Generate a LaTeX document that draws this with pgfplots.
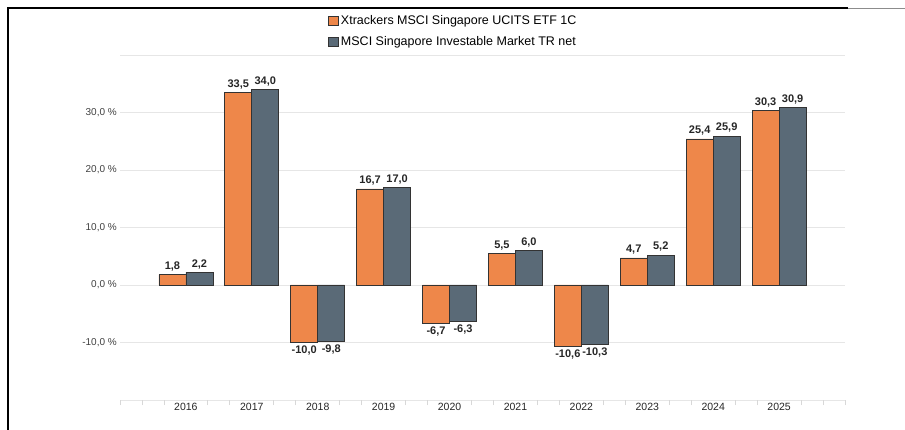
\documentclass[border=0pt]{standalone}
\usepackage{fontspec}
\setmainfont{Liberation Sans}
\usepackage{pgfplots}
\pgfplotsset{compat=1.18}
\definecolor{orangebar}{HTML}{EE874A}
\definecolor{slatebar}{HTML}{5A6A77}
\definecolor{gridc}{HTML}{E6E6E6}
\definecolor{tickc}{HTML}{D8D8D8}
\begin{document}
\begin{tikzpicture}
\begin{axis}[
  at={(120pt,-400pt)}, anchor=south west,
  scale only axis, width=725pt, height=345pt,
  xmin=-1, xmax=10, ymin=-20, ymax=40,
  ybar=0pt, bar width=27pt,
  axis line style={draw=none},
  ymajorgrids, grid style={draw=gridc, line width=0.9pt},
  ytick={-20,-10,...,40},
  yticklabels={,{-10,0 \%},{0,0 \%},{10,0 \%},{20,0 \%},{30,0 \%},},
  ytick style={draw=none},
  yticklabel style={font=\fontsize{10}{12}\selectfont, color=black!75, inner sep=1pt, xshift=3pt},
  tick align=outside, major tick length=5pt,
  xtick pos=left, ytick pos=left,
  xtick={-1,-0.667,-0.333,0.333,0.667,1.333,1.667,2.333,2.667,3.333,3.667,4.333,4.667,5.333,5.667,6.333,6.667,7.333,7.667,8.333,8.667,9.333,9.667,10},
  xticklabels={},
  xtick style={draw=tickc, line width=0.8pt},
  extra x ticks={0,1,2,3,4,5,6,7,8,9},
  extra x tick labels={2016,2017,2018,2019,2020,2021,2022,2023,2024,2025},
  extra x tick style={major tick length=0pt, grid=none},
  xticklabel style={font=\fontsize{10.5}{12}\selectfont, color=black!85},
  nodes near coords,
  nodes near coords style={font=\bfseries\fontsize{11}{12}\selectfont, color=black!85, inner sep=3pt},
  /pgf/number format/fixed, /pgf/number format/fixed zerofill,
  /pgf/number format/precision=1, /pgf/number format/use comma,
  /pgf/number format/assume math mode=true,
  legend style={at={(axis description cs:0.283,1.127)}, anchor=north west, draw=none, fill=none,
    font=\fontsize{12.5}{14}\selectfont, row sep=5pt, cells={anchor=west},
    nodes={inner sep=2.5pt}},
  legend image code/.code={\draw[#1, line width=0.6pt] (0pt,-4.5pt) rectangle (9.5pt,4.5pt);},
]
\addplot[fill=orangebar, draw=black!80, line width=0.8pt] coordinates {
  (0,1.8) (1,33.5) (2,-10.0) (3,16.7) (4,-6.7) (5,5.5) (6,-10.6) (7,4.7) (8,25.4) (9,30.3)};
\addlegendentry{Xtrackers MSCI Singapore UCITS ETF 1C}
\addplot[fill=slatebar, draw=black!80, line width=0.8pt] coordinates {
  (0,2.2) (1,34.0) (2,-9.8) (3,17.0) (4,-6.3) (5,6.0) (6,-10.3) (7,5.2) (8,25.9) (9,30.9)};
\addlegendentry{MSCI Singapore Investable Market TR net}
\end{axis}
\draw[black, line width=1.2pt] (8pt,-430pt) -- (8pt,-8pt) -- (848pt,-8pt);
\draw[black!45, line width=1pt] (848pt,-9pt) -- (905pt,-9pt);
\pgfresetboundingbox
\path[use as bounding box] (0pt,0pt) rectangle (905pt,-430pt);
\end{tikzpicture}
\end{document}
